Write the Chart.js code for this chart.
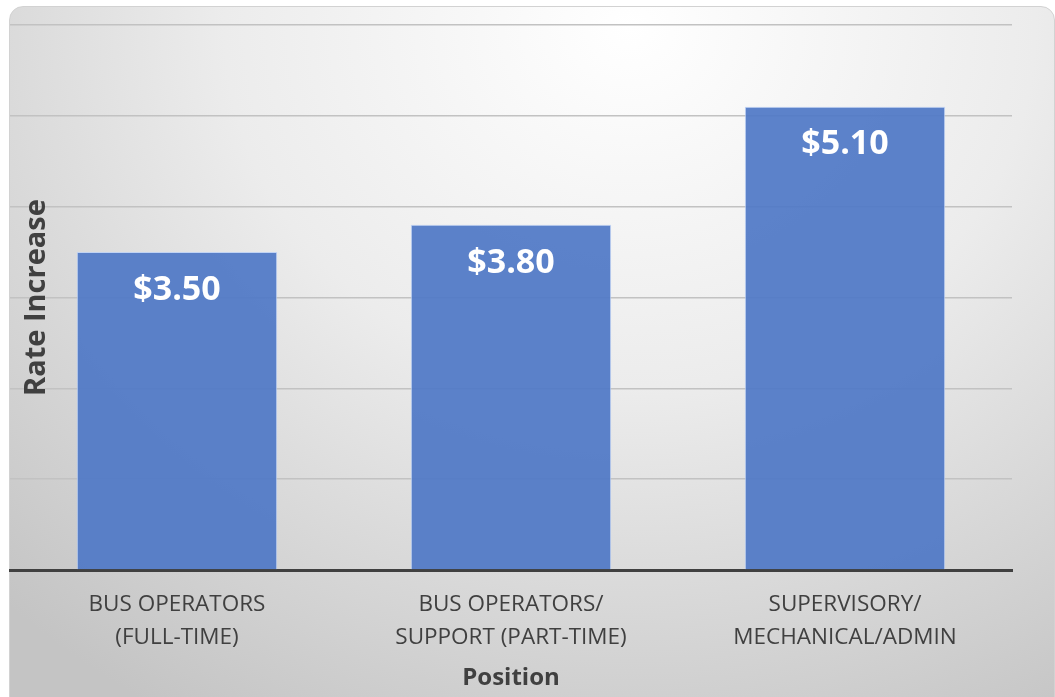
<!DOCTYPE html>
<html>
<head>
<meta charset="utf-8">
<title>Rate Increase by Position</title>
<script src="https://cdn.jsdelivr.net/npm/chart.js@4"></script>
<style>
  html, body { margin: 0; padding: 0; background: #ffffff; }
  body { width: 1055px; height: 697px; position: relative; overflow: hidden; }
  .panel {
    position: absolute;
    left: 9px; top: 6px;
    width: 1044px; height: 720px;
    border: 1px solid #d2d2d2;
    border-radius: 14px;
    background: radial-gradient(ellipse 900px 800px at 620px 20px, #ffffff 0%, #ececec 45%, #d6d6d6 75%, #c4c4c4 100%);
  }
  #rateChart { position: absolute; left: 0; top: 0; }
</style>
</head>
<body>
<div class="panel"></div>
<canvas id="rateChart" width="1055" height="697"></canvas>
<script>
// data
const positions = [
    ['BUS OPERATORS', '(FULL-TIME)'],
    ['BUS OPERATORS/', 'SUPPORT (PART-TIME)'],
    ['SUPERVISORY/', 'MECHANICAL/ADMIN']
];
const rateIncrease = [3.50, 3.80, 5.10];
const yTitle = 'Rate Increase';
const xTitle = 'Position';

const textColor = '#404040';
const fontFamily = '"Open Sans", "DejaVu Sans", sans-serif';

// value labels inside the top of each bar
const barLabels = {
    id: 'barLabels',
    afterDatasetsDraw(chart) {
        const ctx = chart.ctx;
        const meta = chart.getDatasetMeta(0);
        ctx.save();
        ctx.fillStyle = '#ffffff';
        ctx.font = 'bold 34px ' + fontFamily;
        ctx.textAlign = 'center';
        ctx.textBaseline = 'middle';
        meta.data.forEach((bar, i) => {
            const v = chart.data.datasets[0].data[i];
            ctx.fillText('$' + v.toFixed(2), bar.x, bar.y + 38);
        });
        ctx.restore();
    }
};

// vertical axis title, drawn over the left edge of the plot
const sideTitle = {
    id: 'sideTitle',
    afterDraw(chart) {
        const ctx = chart.ctx;
        const area = chart.chartArea;
        ctx.save();
        ctx.translate(37, (area.top + area.bottom) / 2);
        ctx.rotate(-Math.PI / 2);
        ctx.fillStyle = textColor;
        ctx.font = 'bold 29px ' + fontFamily;
        ctx.textAlign = 'center';
        ctx.textBaseline = 'middle';
        ctx.fillText(yTitle, 0, 0);
        ctx.restore();
    }
};

const ctx = document.getElementById('rateChart').getContext('2d');
new Chart(ctx, {
    type: 'bar',
    data: {
        labels: positions,
        datasets: [{
            data: rateIncrease,
            backgroundColor: 'rgba(80, 121, 198, 0.93)',
            borderColor: 'rgba(190, 210, 245, 0.9)',
            borderWidth: 1,
            barPercentage: 0.6,
            categoryPercentage: 1.0
        }]
    },
    options: {
        responsive: false,
        animation: false,
        layout: {
            padding: { left: 10, top: 25, right: 43, bottom: 4 }
        },
        plugins: {
            legend: { display: false },
            tooltip: { enabled: false }
        },
        scales: {
            y: {
                min: 0,
                max: 6,
                ticks: { display: false, stepSize: 1 },
                grid: { color: '#c2c2c2', lineWidth: 1.5, drawTicks: false },
                border: { display: false }
            },
            x: {
                grid: { display: false, drawTicks: false },
                border: { color: textColor, width: 3 },
                ticks: {
                    color: textColor,
                    padding: 18,
                    font: { family: fontFamily, size: 22.5, lineHeight: 1.47 }
                },
                title: {
                    display: true,
                    text: xTitle,
                    color: textColor,
                    padding: { top: -8, bottom: 0 },
                    font: { family: fontFamily, size: 24, weight: 'bold' }
                }
            }
        }
    },
    plugins: [barLabels, sideTitle]
});
</script>
</body>
</html>
